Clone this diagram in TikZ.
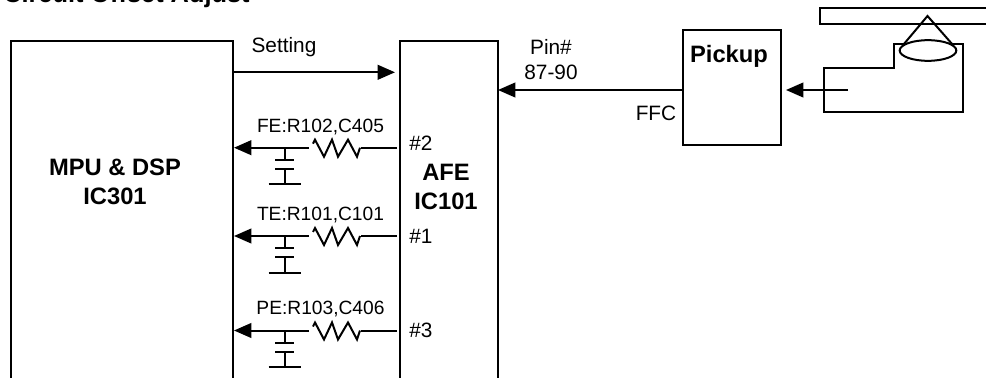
\documentclass[tikz,border=0pt]{standalone}
\usepackage{fontspec}
\setmainfont{Liberation Sans}
\usepackage{tikz}
\usetikzlibrary{shapes.geometric, arrows.meta, positioning, calc}

\begin{document}
\begin{tikzpicture}[
    x=0.75pt, y=-0.75pt,
    block/.style={rectangle, draw, line width=1.5pt, inner sep=0pt, anchor=north west},
    title/.style={font=\bfseries\fontsize{17.8}{21.5}\selectfont, align=center, inner sep=0pt},
    lbl/.style={font=\fontsize{15.6}{18.75}\selectfont, align=center, inner sep=0pt},
    small/.style={font=\fontsize{14.4}{16}\selectfont, inner sep=0pt},
    arrow/.style={line width=1.5pt,-{Triangle[length=13pt,width=11pt]}},
    wire/.style={line width=1.5pt}
]
    \useasboundingbox (0,0) rectangle (986,378);
    \clip (0,0) rectangle (986,378);

    \node [title, anchor=base west, font=\bfseries\fontsize{19}{21}\selectfont] (heading) at (3,3) {Circuit Offset Adjust};

    \node [block, minimum width=166.2pt, minimum height=300pt] (mpu) at (10,40.3) {};
    \node [block, minimum width=73.5pt, minimum height=300pt] (afe) at (399.3,40.3) {};
    \node [block, minimum width=73.5pt, minimum height=86pt] (pickup) at (682,29) {};

    \node [title] (mpulabel) at (115,182) {MPU \& DSP\\IC301};
    \node [title] (afelabel) at (446,187) {AFE\\IC101};
    \node [title] (pickuplabel) at (729,56) {Pickup};

    \node [lbl] (setting) at (284,47) {Setting};
    \node [lbl] (pin) at (551,60) {Pin\#\\87-90};
    \node [lbl] (ffc) at (656,113) {FFC};

    \coordinate (setfrom) at (233,72.3);
    \coordinate (setto) at (395,72.3);
    \draw [arrow] (setfrom) -- (setto);
    \coordinate (pinfrom) at (682,90);
    \coordinate (pinto) at (498,90);
    \draw [arrow] (pinfrom) -- (pinto);

    % three filtered lines
    \foreach \name/\txt/\pinno/\ypos/\pinpos in {fe/{FE:R102,C405}/\#2/147.7/143, te/{TE:R101,C101}/\#1/236/236.7, pe/{PE:R103,C406}/\#3/330.5/330} {
        \coordinate (\name out) at (234,\ypos);
        \coordinate (\name in) at (397,\ypos);
        \coordinate (\name tap) at (284.5,\ypos);
        \draw [arrow] (309,\ypos) -- (\name out);
        \draw [wire] (\name in) -- (361,\ypos);
        \draw [wire, line join=miter] (313,\ypos-4) -- (315,\ypos-8) -- (324,\ypos+9) -- (332,\ypos-8) -- (338,\ypos+9) -- (348,\ypos-8) -- (357,\ypos+9) -- (360,\ypos);
        \draw [wire] (\name tap) -- ++(0,12) ++(-9.5,0) -- ++(19,0)
            ++(-19,9) -- ++(19,0) ++(-9.5,0) -- ++(0,15.5) ++(-16,0) -- ++(32,0);
        \node [small] (\name label) at (320.5,\ypos-21) {\txt};
        \node [lbl, anchor=west] (\name pin) at (409,\pinpos) {\pinno};
    }

    % disc and optical head
    \draw [wire] (986,8) -- (820,8) -- (820,24) -- (986,24);
    \draw [wire] (824,112) -- (963,112) -- (963,44) -- (894,44) -- (894,68) -- (824,68) -- cycle;
    \node [draw, line width=1.5pt, fill=white, ellipse, minimum width=42.5pt, minimum height=15.5pt, inner sep=0pt] (lens) at (928,50.5) {};
    \coordinate (apex) at (927.5,16);
    \draw [wire] (lens.165) -- (apex) -- (lens.15);
    \coordinate (headend) at (848,90);
    \draw [arrow] (headend) -- (786,90);
\end{tikzpicture}
\end{document}
